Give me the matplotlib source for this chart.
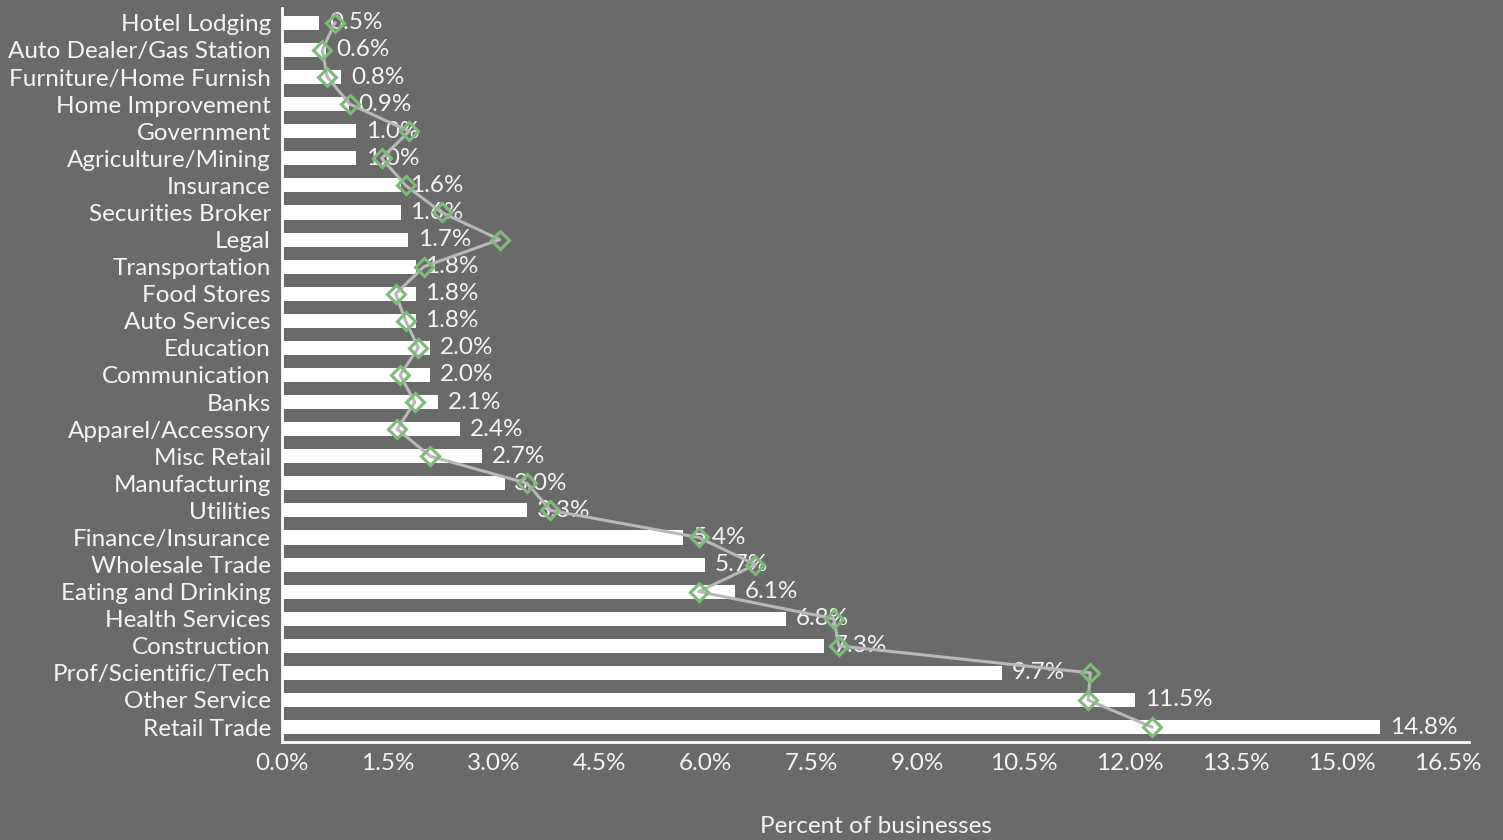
import matplotlib.pyplot as plt
from matplotlib.ticker import FuncFormatter

# Data (top row first)
categories = [
    'Hotel Lodging', 'Auto Dealer/Gas Station', 'Furniture/Home Furnish',
    'Home Improvement', 'Government', 'Agriculture/Mining', 'Insurance',
    'Securities Broker', 'Legal', 'Transportation', 'Food Stores',
    'Auto Services', 'Education', 'Communication', 'Banks',
    'Apparel/Accessory', 'Misc Retail', 'Manufacturing', 'Utilities',
    'Finance/Insurance', 'Wholesale Trade', 'Eating and Drinking',
    'Health Services', 'Construction', 'Prof/Scientific/Tech',
    'Other Service', 'Retail Trade',
]
bar_pct = [0.5, 0.6, 0.8, 0.9, 1.0, 1.0, 1.6, 1.6, 1.7, 1.8, 1.8, 1.8, 2.0,
           2.0, 2.1, 2.4, 2.7, 3.0, 3.3, 5.4, 5.7, 6.1, 6.8, 7.3, 9.7, 11.5, 14.8]
line_pct = [0.75, 0.57, 0.64, 0.96, 1.80, 1.41, 1.75, 2.26, 3.08, 2.01, 1.61,
            1.75, 1.93, 1.67, 1.88, 1.63, 2.10, 3.47, 3.80, 5.90, 6.70, 5.90,
            7.81, 7.88, 11.44, 11.41, 12.31]
ticks = [0.0, 1.5, 3.0, 4.5, 6.0, 7.5, 9.0, 10.5, 12.0, 13.5, 15.0, 16.5]

BG = '#6a6a6a'
FG = '#f4f4f4'
FS = 17.5
plt.rcParams['font.family'] = ['Lato', 'DejaVu Sans']

fig = plt.figure(figsize=(15.03, 8.40), dpi=100, facecolor=BG)
ax = fig.add_axes([0.1876, 0.1167, 0.7898, 0.8738])
ax.set_facecolor(BG)
ypos = list(range(len(categories)))

# bars + value labels
ax.barh(ypos, bar_pct, height=0.52, color='white', zorder=2)
for y, v in zip(ypos, bar_pct):
    ax.annotate(f'{v:.1f}%', (v, y), xytext=(7, 0), textcoords='offset points',
                va='center', ha='left', color=FG, fontsize=FS)
ax.set_xlim(0, 16.0)
ax.set_ylim(len(categories) - 0.45, -0.55)
ax.set_yticks(ypos)
ax.set_yticklabels(categories, color=FG, fontsize=FS)
ax.tick_params(axis='y', length=0, pad=8)
ax.tick_params(axis='x', length=0, labelbottom=False, labeltop=False)
for s in ['top', 'right']:
    ax.spines[s].set_visible(False)
for s in ['left', 'bottom']:
    ax.spines[s].set_color('white')
    ax.spines[s].set_linewidth(2)

# line series on its own x scale
ax2 = ax.twiny()
ax2.plot(line_pct, ypos, color='#b8b8b8', lw=2.2, marker='D', markersize=9,
         markerfacecolor='none', markeredgecolor='#7dbb78', markeredgewidth=2.2,
         zorder=5)
ax2.set_xlim(0, 16.8)
ax2.set_xticks(ticks)
ax2.xaxis.set_major_formatter(FuncFormatter(lambda v, p: f'{v:.1f}%'))
ax2.xaxis.set_ticks_position('bottom')
ax2.xaxis.set_label_position('bottom')
ax2.tick_params(axis='x', length=0, pad=8, labelsize=FS, labelcolor=FG)
for s in ax2.spines.values():
    s.set_visible(False)
ax2.set_xlabel('Percent of businesses', color=FG, fontsize=FS, labelpad=30)

fig.savefig('out.png', dpi=100, facecolor=BG)
